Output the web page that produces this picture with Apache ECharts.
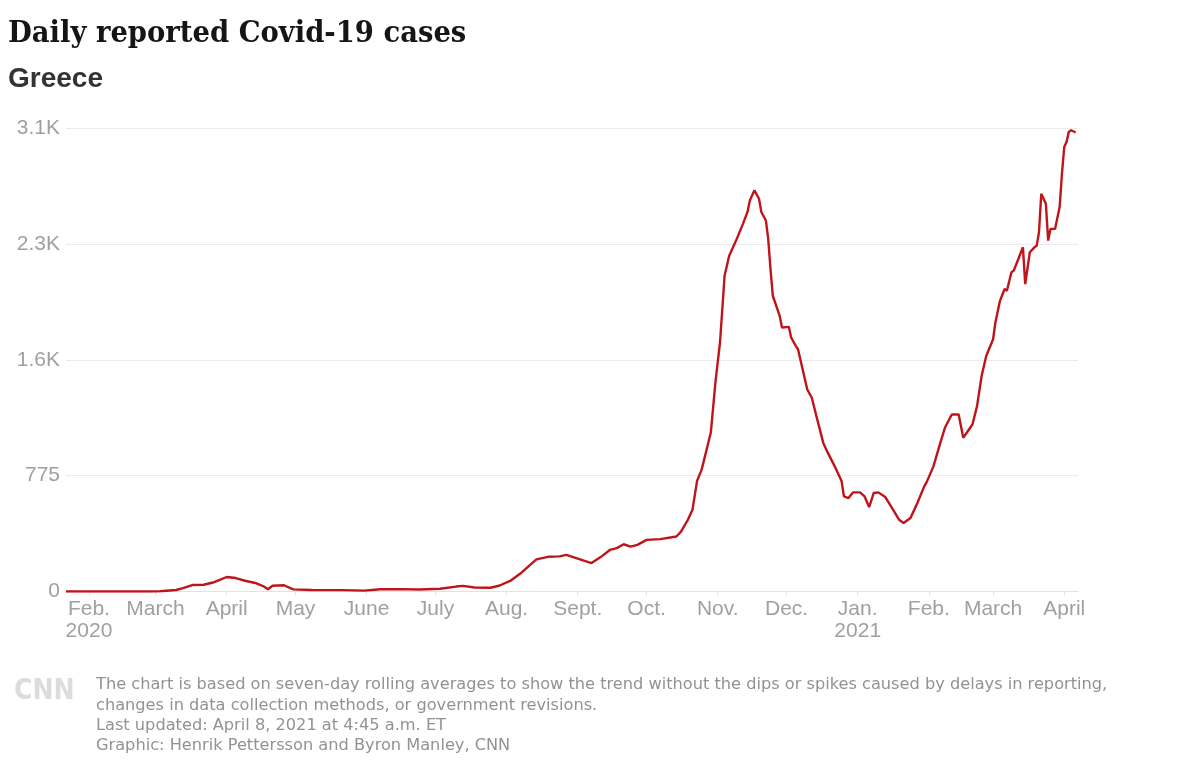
<!DOCTYPE html>
<html><head><meta charset="utf-8">
<script src="https://cdn.jsdelivr.net/npm/echarts@6/dist/echarts.min.js"></script>
<style>html,body{margin:0;padding:0;background:#fff}#chart{width:1200px;height:783px}</style>
</head><body><div id="chart"></div>
<script>
const dates = ['2020-01-22','2020-02-27','2020-03-03','2020-03-10','2020-03-13','2020-03-17','2020-03-22','2020-03-26','2020-03-29','2020-04-01','2020-04-05','2020-04-09','2020-04-14','2020-04-17','2020-04-19','2020-04-21','2020-04-26','2020-04-30','2020-05-08','2020-05-21','2020-05-31','2020-06-07','2020-06-16','2020-06-24','2020-07-03','2020-07-10','2020-07-13','2020-07-18','2020-07-25','2020-07-29','2020-08-03','2020-08-07','2020-08-11','2020-08-14','2020-08-19','2020-08-24','2020-08-27','2020-08-31','2020-09-04','2020-09-07','2020-09-11','2020-09-15','2020-09-18','2020-09-21','2020-09-24','2020-09-27','2020-10-01','2020-10-07','2020-10-14','2020-10-16','2020-10-19','2020-10-21','2020-10-23','2020-10-25','2020-10-29','2020-10-31','2020-11-02','2020-11-03','2020-11-04','2020-11-06','2020-11-09','2020-11-12','2020-11-14','2020-11-15','2020-11-17','2020-11-19','2020-11-20','2020-11-22','2020-11-23','2020-11-24','2020-11-25','2020-11-28','2020-11-29','2020-12-02','2020-12-03','2020-12-05','2020-12-06','2020-12-08','2020-12-10','2020-12-12','2020-12-14','2020-12-17','2020-12-19','2020-12-22','2020-12-25','2020-12-26','2020-12-28','2020-12-30','2021-01-02','2021-01-04','2021-01-06','2021-01-08','2021-01-10','2021-01-13','2021-01-16','2021-01-19','2021-01-21','2021-01-24','2021-01-27','2021-01-30','2021-01-31','2021-02-03','2021-02-06','2021-02-08','2021-02-11','2021-02-14','2021-02-16','2021-02-20','2021-02-22','2021-02-24','2021-02-26','2021-03-01','2021-03-02','2021-03-04','2021-03-06','2021-03-07','2021-03-09','2021-03-10','2021-03-12','2021-03-14','2021-03-15','2021-03-17','2021-03-19','2021-03-20','2021-03-21','2021-03-22','2021-03-24','2021-03-25','2021-03-26','2021-03-28','2021-03-30','2021-03-31','2021-04-01','2021-04-02','2021-04-03','2021-04-04','2021-04-06'];
const cases = [0,0,2,10,22,43,45,60,78,97,90,72,55,35,15,38,42,14,10,9,6,15,16,13,18,33,38,27,25,40,75,120,175,215,232,235,245,225,205,190,230,278,290,316,300,312,345,350,368,400,480,547,740,815,1063,1399,1667,1889,2112,2246,2347,2459,2540,2615,2683,2627,2538,2481,2359,2157,1978,1844,1766,1770,1699,1643,1620,1486,1352,1296,1173,994,927,837,737,636,625,663,663,636,565,659,663,632,558,480,458,491,592,703,730,837,994,1095,1184,1184,1028,1117,1240,1441,1575,1687,1799,1944,2023,2011,2135,2146,2224,2302,2056,2269,2302,2313,2403,2660,2593,2347,2425,2425,2571,2794,2973,3007,3074,3085,3070];
const monthTicks = ['2020-02-01','2020-03-01','2020-04-01','2020-05-01','2020-06-01','2020-07-01','2020-08-01','2020-09-01','2020-10-01','2020-11-01','2020-12-01','2021-01-01','2021-02-01','2021-03-01','2021-04-01'];
const monthLabels = ['Feb.\n2020','March','April','May','June','July','Aug.','Sept.','Oct.','Nov.','Dec.','Jan.\n2021','Feb.','March','April'];
const yTicks = [0,775,1550,2325,3100];
const yTickLabels = ['0','775','1.6K','2.3K','3.1K'];
const xStart = '2020-01-22';
const xEnd = '2021-04-07';
const titleText = 'Daily reported Covid-19 cases';
const subtitleText = 'Greece';
const footerLines = [
  'The chart is based on seven-day rolling averages to show the trend without the dips or spikes caused by delays in reporting,',
  'changes in data collection methods, or government revisions.',
  'Last updated: April 8, 2021 at 4:45 a.m. ET',
  'Graphic: Henrik Pettersson and Byron Manley, CNN'
];

const DAY = 86400000;
function dayNum(s){ const p = s.split('-').map(Number); return Math.round(Date.UTC(p[0], p[1]-1, p[2]) / DAY); }
const tickDays = monthTicks.map(dayNum);
const seriesData = dates.map((d,i)=>[dayNum(d), cases[i]]);

const chart = echarts.init(document.getElementById('chart'), null, {renderer:'canvas'});
const labelFont = '"Liberation Sans", Arial, sans-serif';
const footerGraphics = footerLines.map((t,i)=>({
  type:'text', left:96, top: 677 + i*20.3,
  style:{text:t, fill:'#929292', fontSize:16.2, fontFamily:'"DejaVu Sans", Verdana, sans-serif'}
}));
chart.setOption({
  animation:false,
  backgroundColor:'#fff',
  grid:{left:66, right:122, top:128, bottom:191.5, containLabel:false},
  xAxis:{
    type:'value', min:dayNum(xStart), max:dayNum(xEnd),
    axisLine:{show:true, onZero:false, lineStyle:{color:'#e2e2e2', width:1}},
    axisTick:{show:true, customValues:tickDays, length:4, lineStyle:{color:'#e2e2e2'}},
    splitLine:{show:false},
    axisLabel:{
      customValues:tickDays, color:'#a0a0a0', fontSize:21, lineHeight:22, margin:7,
      fontFamily:labelFont,
      formatter:function(v){ const i = tickDays.indexOf(Math.round(v)); return i>=0 ? monthLabels[i] : ''; }
    }
  },
  yAxis:{
    type:'value', min:0, max:3100, interval:775,
    axisLine:{show:false}, axisTick:{show:false},
    splitLine:{lineStyle:{color:'#ebebeb', width:1}},
    axisLabel:{color:'#a0a0a0', fontSize:21, margin:6, fontFamily:labelFont,
      formatter:function(v){ const i = yTicks.indexOf(v); return i>=0 ? yTickLabels[i] : ''; }}
  },
  series:[{
    type:'line', data:seriesData, showSymbol:false, smooth:false,
    lineStyle:{color:'#c0141b', width:2.4}
  }],
  graphic:[
    {type:'text', left:8, top:19, style:{text:titleText, fill:'#151515', fontSize:30.5, fontWeight:'bold', fontFamily:'"DejaVu Serif Condensed", "DejaVu Serif", serif'}},
    {type:'text', left:8, top:65, style:{text:subtitleText, fill:'#333', fontSize:28, fontWeight:'bold', fontFamily:'"Liberation Sans", Arial, sans-serif'}},
    {type:'text', left:14, top:678, style:{text:'CNN', fill:'#dcdcdc', fontSize:28, fontWeight:'bold', fontFamily:'"DejaVu Sans Condensed", "Liberation Sans Narrow", sans-serif'}}
  ].concat(footerGraphics)
});
</script></body></html>
